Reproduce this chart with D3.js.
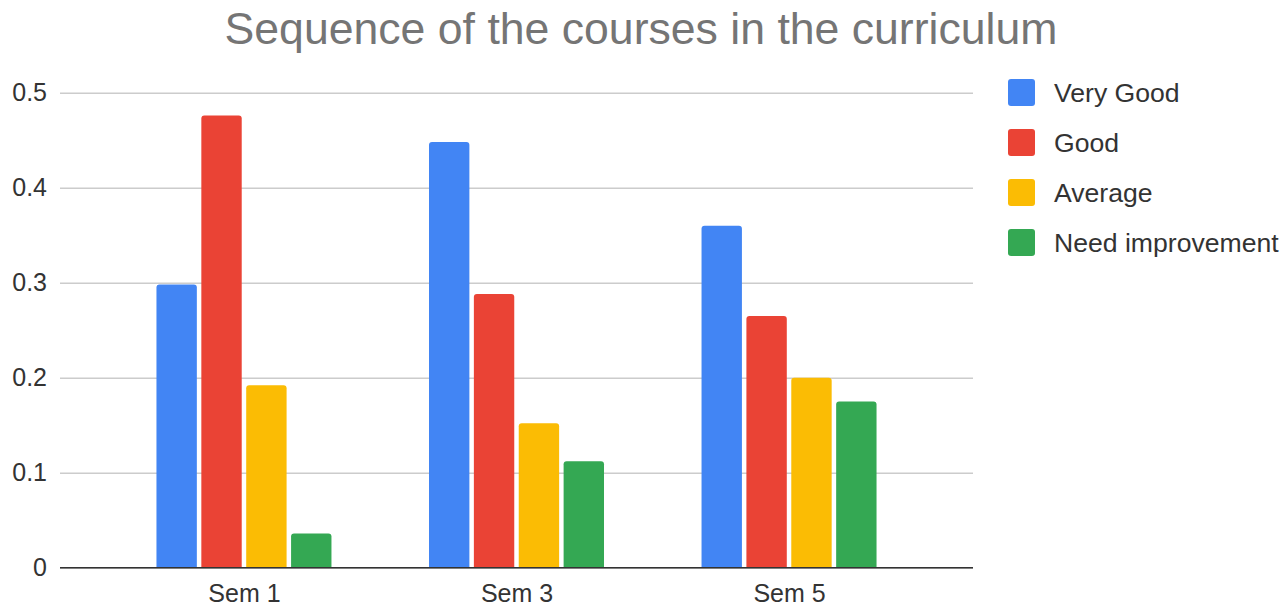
<!DOCTYPE html>
<html>
<head>
<meta charset="utf-8">
<script src="https://cdn.jsdelivr.net/npm/d3@7"></script>
<style>
  html, body { margin: 0; padding: 0; background: #fff; }
  svg { display: block; font-family: "Liberation Sans", Arial, sans-serif; }
</style>
</head>
<body>
<svg id="chart" width="1285" height="608"></svg>
<script>
// Survey results: share of responses per rating, by semester
const categories = ["Sem 1", "Sem 3", "Sem 5"];
const seriesNames = ["Very Good", "Good", "Average", "Need improvement"];
const veryGood = [0.298, 0.448, 0.360];
const good = [0.476, 0.288, 0.265];
const average = [0.192, 0.152, 0.200];
const needImprovement = [0.036, 0.112, 0.175];
const yTicks = [0, 0.1, 0.2, 0.3, 0.4, 0.5];
const colors = ["#4285F4", "#EA4335", "#FBBC04", "#34A853"];

const seriesValues = [veryGood, good, average, needImprovement];

const svg = d3.select("#chart");
const plotLeft = 60, plotRight = 973, plotTop = 92.7, plotBottom = 567.7;

const x0 = d3.scalePoint().domain(categories).range([plotLeft, plotRight]).padding(0.675);
const x1 = d3.scaleBand().domain(seriesNames).range([-87.5, 87.5]).paddingInner(0.1);
const y = d3.scaleLinear().domain([0, 0.5]).range([plotBottom, plotTop]);

// Title
svg.append("text")
  .attr("x", 641).attr("y", 44)
  .attr("text-anchor", "middle")
  .attr("fill", "#757575")
  .style("font-size", "44.6px")
  .text("Sequence of the courses in the curriculum");

// Gridlines + y labels
const yAxis = d3.axisLeft(y).tickValues(yTicks).tickSize(-(plotRight - plotLeft))
  .tickFormat(d => d === 0 ? "0" : d3.format(".1f")(d));
const gy = svg.append("g").attr("transform", `translate(${plotLeft},0)`).call(yAxis);
gy.select(".domain").remove();
gy.selectAll(".tick line").attr("stroke", "#cccccc").attr("stroke-width", 1.6);
gy.selectAll(".tick text")
  .attr("x", -13).attr("dy", "0.32em")
  .attr("fill", "#333").style("font-size", "25px")
  .style("font-family", "'Liberation Sans', Arial, sans-serif");

// Bars
const groups = svg.append("g").selectAll("g")
  .data(categories)
  .join("g")
  .attr("transform", d => `translate(${x0(d)},0)`);

groups.selectAll("path")
  .data((c, i) => seriesNames.map((s, j) => ({ s, j, v: seriesValues[j][i] })))
  .join("path")
  .attr("fill", d => colors[d.j])
  .attr("d", d => {
    const bx = x1(d.s), bw = x1.bandwidth();
    const by = y(d.v), bh = y(0) - y(d.v);
    const r = Math.min(3, bh / 2);
    return `M${bx},${by + bh}V${by + r}Q${bx},${by} ${bx + r},${by}H${bx + bw - r}Q${bx + bw},${by} ${bx + bw},${by + r}V${by + bh}Z`;
  });

// Baseline axis
svg.append("line")
  .attr("x1", plotLeft).attr("x2", plotRight)
  .attr("y1", y(0)).attr("y2", y(0))
  .attr("stroke", "#333").attr("stroke-width", 1.4);

// X labels
const xAxis = d3.axisBottom(x0).tickSize(0).tickPadding(0);
const gx = svg.append("g").attr("transform", `translate(0,${y(0)})`).call(xAxis);
gx.select(".domain").remove();
gx.selectAll(".tick text")
  .attr("y", 0).attr("dy", 34)
  .attr("fill", "#333").style("font-size", "25px")
  .style("font-family", "'Liberation Sans', Arial, sans-serif");

// Legend
const legend = svg.append("g").selectAll("g")
  .data(seriesNames)
  .join("g")
  .attr("transform", (d, i) => `translate(1008,${92.5 + i * 50})`);
legend.append("rect")
  .attr("x", 0).attr("y", -13.5).attr("width", 27).attr("height", 27)
  .attr("rx", 3).attr("fill", (d, i) => colors[i]);
legend.append("text")
  .attr("x", 46).attr("y", 9)
  .attr("fill", "#333").style("font-size", "26.6px")
  .text(d => d);
</script>
</body>
</html>
